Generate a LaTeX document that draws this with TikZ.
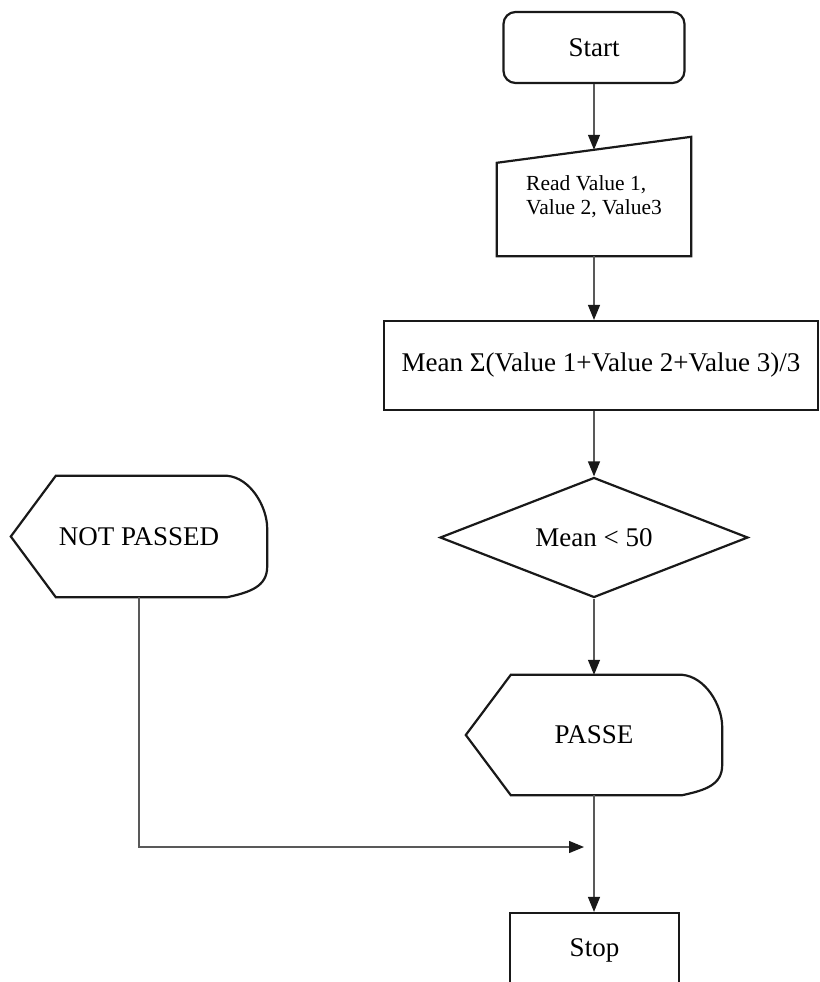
\documentclass[tikz,border=0pt]{standalone}
\usepackage{fontspec}
\setmainfont{Liberation Serif}
\usetikzlibrary{shapes.geometric,arrows.meta}

\tikzset{
  box/.style={draw=black!90, line width=2.2pt},
  line/.style={draw=black!65, line width=1.3pt},
  arr/.style={line, -{Triangle[length=15pt,width=12pt,color=black!90]}},
  big/.style={font=\fontsize{27}{31}\selectfont},
  small/.style={font=\fontsize{21.5}{23.5}\selectfont},
}

% display outline round a node
\newcommand{\dispout}[1]{%
  \draw[box] (#1.west) -- ([xshift=45pt]#1.north west) -- ([xshift=-40pt]#1.north east)
    .. controls ([xshift=-17pt,yshift=-2pt]#1.north east) and ([yshift=30pt]#1.east) .. ([yshift=8pt]#1.east)
    -- ([yshift=-30pt]#1.east)
    .. controls ([yshift=-50pt]#1.east) and ([xshift=-17pt,yshift=5pt]#1.south east) .. ([xshift=-40pt]#1.south east)
    -- ([xshift=45pt]#1.south west) -- cycle;}

\begin{document}
\begin{tikzpicture}[x=1pt,y=-1pt]
  \useasboundingbox (0,0) rectangle (819,982);
  \clip (0,0) rectangle (819,982);

  \node[box,big,rounded corners=12pt,minimum width=181pt,minimum height=71pt] (start) at (594,47.5) {Start};
  \node[small,align=left,minimum width=194pt,minimum height=119pt,inner sep=0pt] (read) at (594,196.5) {Read Value 1,\\Value 2, Value3};
  \draw[box] (read.south west) -- (read.south east) -- (read.north east) -- ([yshift=-26pt]read.north west) -- cycle;
  \node[box,big,minimum width=434pt,minimum height=89pt] (mean) at (601,365.5) {Mean Σ(Value 1+Value 2+Value 3)/3};
  \node[box,big,diamond,aspect=2.57,minimum width=308pt,minimum height=120pt,inner sep=0pt] (test) at (594,537.5) {Mean < 50};
  \node[big,minimum width=256pt,minimum height=120pt,inner sep=0pt] (pass) at (594,735) {PASSE};
  \dispout{pass}
  \node[big,minimum width=256pt,minimum height=121pt,inner sep=0pt] (fail) at (139,536.5) {NOT PASSED};
  \dispout{fail}
  \node[box,big,minimum width=169pt,minimum height=74pt] (stop) at (594.5,950) {Stop};
  \coordinate (join) at (584,847);

  \draw[arr] (start.south) -- ([yshift=-13pt]read.north);
  \draw[arr] (read.south) -- (read.south |- mean.north);
  \draw[arr] (read.south |- mean.south) -- (test.north);
  \draw[arr] (test.south) -- (pass.north);
  \draw[arr] (pass.south) -- (pass.south |- stop.north);
  \draw[arr] (fail.south) |- (join);
\end{tikzpicture}
\end{document}
